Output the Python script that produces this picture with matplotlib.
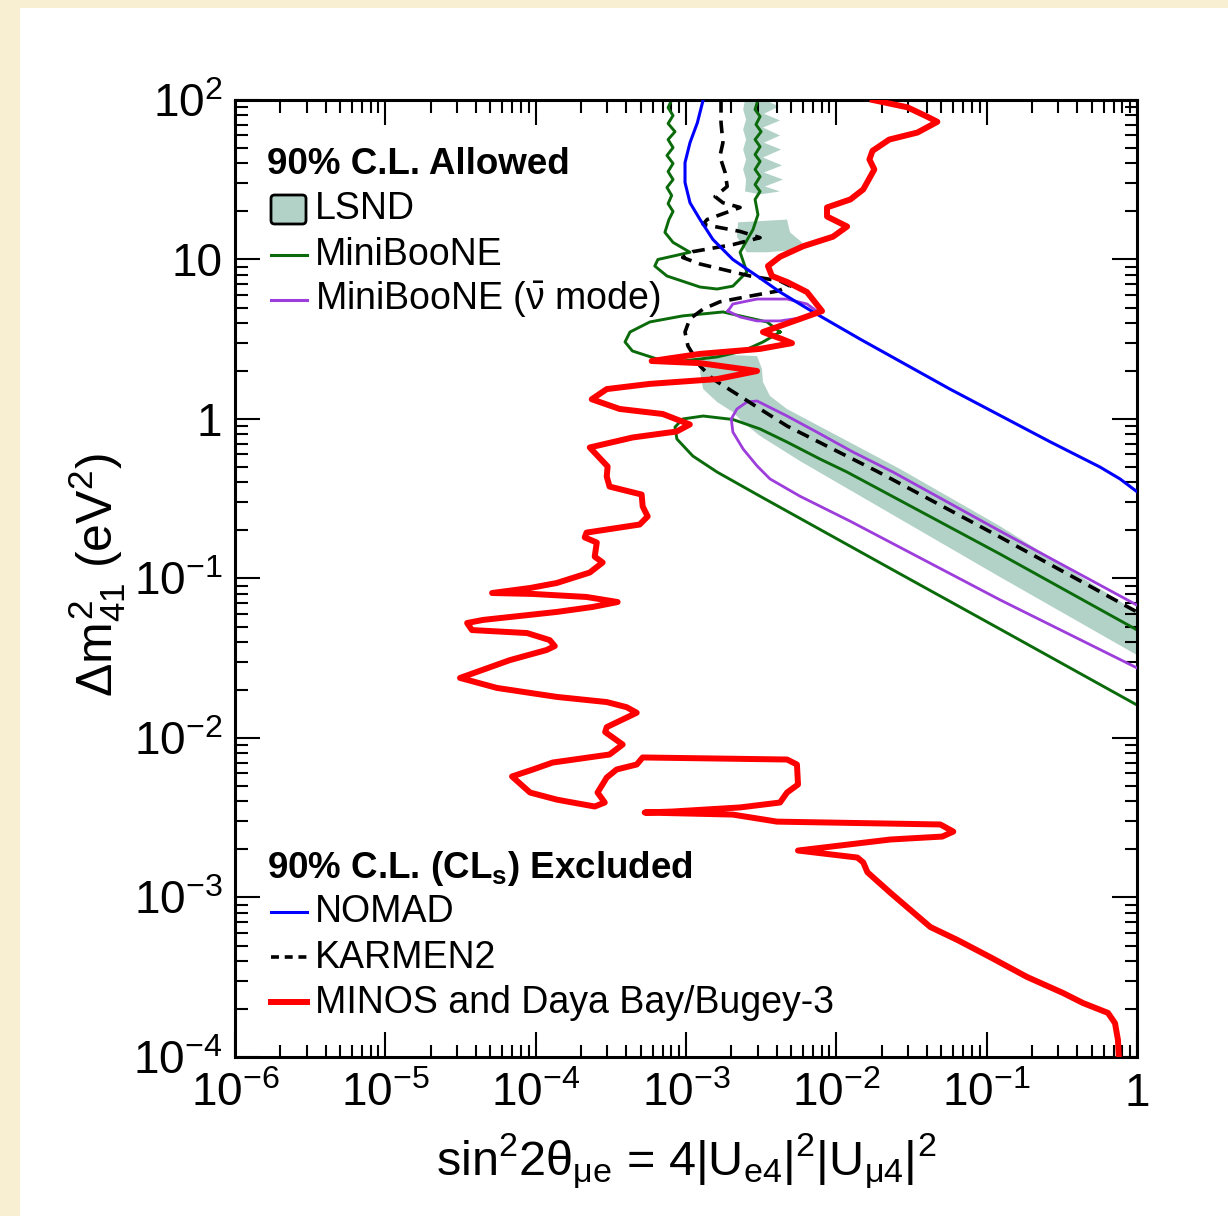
import numpy as np
import matplotlib.pyplot as plt
from matplotlib.patches import Rectangle, Polygon, FancyBboxPatch
from matplotlib.lines import Line2D
from matplotlib.ticker import FixedLocator, FixedFormatter, LogLocator, NullFormatter

plt.rcParams['font.family'] = ['Liberation Sans', 'DejaVu Sans']
plt.rcParams['mathtext.fontset'] = 'custom'
plt.rcParams['mathtext.rm'] = 'Liberation Sans'
plt.rcParams['mathtext.it'] = 'Liberation Sans'
plt.rcParams['mathtext.bf'] = 'Liberation Sans:bold'

# ---- axis ticks ----
x_ticks = [1e-6, 1e-5, 1e-4, 1e-3, 1e-2, 1e-1, 1]
x_tick_labels = [r'$10^{-6}$', r'$10^{-5}$', r'$10^{-4}$', r'$10^{-3}$', r'$10^{-2}$', r'$10^{-1}$', '1']
y_ticks = [1e-4, 1e-3, 1e-2, 1e-1, 1, 10, 100]
y_tick_labels = [r'$10^{-4}$', r'$10^{-3}$', r'$10^{-2}$', r'$10^{-1}$', '1', '10', r'$10^{2}$']

# ---- LSND 90% CL allowed islands (sin^2 2theta, dm^2) ----
lsnd_top_s2 = [2.47e-3, 2.40e-3, 2.51e-3, 2.40e-3, 2.51e-3, 2.40e-3, 2.51e-3, 2.40e-3, 2.51e-3, 2.47e-3,
               3.11e-3, 4.22e-3, 3.35e-3, 4.42e-3, 3.30e-3, 4.35e-3, 3.25e-3, 4.29e-3, 3.30e-3, 4.22e-3,
               3.25e-3, 4.22e-3, 3.30e-3, 4.16e-3, 3.35e-3]
lsnd_top_dm2 = [100, 87.2, 75.5, 65.3, 56.5, 48.9, 42.4, 36.7, 31.7, 26.7,
                25.6, 26.7, 28.7, 31.7, 35.1, 38.9, 43.6, 48.9, 54.0, 59.9,
                67.2, 74.4, 82.0, 91.0, 100]
lsnd_mid_s2 = [2.22e-3, 4.70e-3, 4.92e-3, 5.91e-3, 5.73e-3, 3.46e-3, 2.54e-3, 2.18e-3]
lsnd_mid_dm2 = [17.1, 17.8, 14.8, 12.8, 11.55, 11.1, 11.1, 13.9]
lsnd_main_s2 = [1.30e-3, 2.97e-3, 3.20e-3, 3.25e-3, 3.62e-3, 4.70e-3, 2.65e-2, 0.1226, 1.0,
                1.0, 0.1226, 2.65e-2, 5.73e-3, 3.11e-3, 2.40e-3, 2.05e-3, 1.61e-3, 1.30e-3, 1.24e-3]
lsnd_main_dm2 = [2.56, 2.48, 2.06, 1.706, 1.394, 1.155, 0.486, 0.213, 0.0617,
                 0.0331, 0.1022, 0.236, 0.545, 0.783, 0.95, 1.106, 1.278, 1.542, 1.97]

# ---- MiniBooNE (neutrino mode) 90% CL allowed contours ----
mb_upper_s2 = [8.03e-4, 7.6e-4, 8.2e-4, 7.6e-4, 8.45e-4, 7.6e-4, 8.2e-4, 7.47e-4, 8.2e-4, 7.6e-4,
               8.2e-4, 7.47e-4, 8.03e-4, 7.6e-4, 8.2e-4, 7.7e-4, 7.24e-4, 8.2e-4, 1.063e-3, 6.5e-4,
               6.2e-4, 7.47e-4, 1.24e-3, 1.61e-3, 2.05e-3, 2.54e-3, 2.29e-3, 2.79e-3, 3.01e-3, 2.88e-3,
               3.11e-3, 2.88e-3, 3.11e-3, 2.88e-3, 3.11e-3, 2.88e-3, 3.11e-3, 2.88e-3, 3.16e-3, 2.92e-3,
               3.11e-3, 2.88e-3, 3.01e-3]
mb_upper_dm2 = [100, 89.6, 79.9, 71.2, 63.3, 56.5, 50.3, 44.9, 40.0, 35.6,
                31.7, 28.3, 25.2, 22.4, 20.0, 17.8, 14.8, 12.8, 11.1, 10.0,
                9.1, 7.88, 6.72, 6.53, 6.81, 8.35, 11.1, 15.4, 19.1, 23.8,
                26.7, 29.5, 33.1, 36.7, 41.2, 45.5, 51.0, 56.5, 63.3, 70.2,
                78.8, 87.2, 100]
mb_loop_s2 = [4.22e-3, 3.46e-3, 2.29e-3, 1.76e-3, 9.5e-4, 5.75e-4, 4.24e-4, 3.93e-4, 4.4e-4, 6.4e-4,
              9.5e-4, 1.61e-3, 2.40e-3, 3.25e-3, 4.22e-3]
mb_loop_dm2 = [3.51, 4.06, 4.43, 4.69, 4.43, 4.06, 3.51, 3.04, 2.67, 2.38,
               2.31, 2.45, 2.67, 3.04, 3.51]
mb_lower_s2 = [1.0, 0.1226, 1.178e-2, 7.79e-3, 4.70e-3, 3.11e-3, 2.05e-3, 1.30e-3, 9.5e-4, 8.45e-4,
               8.7e-4, 1.11e-3, 1.61e-3, 3.11e-3, 2.65e-2, 0.1226, 1.0]
mb_lower_dm2 = [0.0476, 0.1424, 0.465, 0.561, 0.717, 0.866, 0.993, 1.044, 1.0, 0.89,
                0.749, 0.586, 0.465, 0.328, 0.107, 0.0482, 0.0161]

# ---- MiniBooNE antineutrino mode contours ----
mbbar_loop_s2 = [1.9e-3, 2.05e-3, 2.97e-3, 4.70e-3, 6.38e-3, 7.4e-3, 6.38e-3, 4.22e-3, 2.97e-3, 2.29e-3, 1.9e-3]
mbbar_loop_dm2 = [4.75, 5.26, 5.65, 5.65, 5.26, 4.75, 4.36, 4.12, 4.12, 4.36, 4.75]
mbbar_lower_s2 = [1.0, 0.1226, 2.38e-2, 1.29e-2, 7.4e-3, 4.70e-3, 2.97e-3, 2.54e-3, 2.18e-3, 2.0e-3,
                  2.05e-3, 2.40e-3, 2.97e-3, 3.62e-3, 5.73e-3, 1.233e-2, 0.1226, 1.0]
mbbar_lower_dm2 = [0.0681, 0.1985, 0.465, 0.621, 0.829, 1.044, 1.297, 1.278, 1.155, 1.0,
                   0.829, 0.648, 0.508, 0.421, 0.328, 0.229, 0.0735, 0.0275]

# ---- 90% CLs exclusion limits ----
nomad_s2 = [1.30e-3, 1.19e-3, 1.063e-3, 9.85e-4, 9.85e-4, 1.063e-3, 1.24e-3, 1.51e-3, 2.05e-3, 2.97e-3,
            4.22e-3, 7.0e-3, 1.438e-2, 5.7e-2, 0.264, 0.567, 0.771, 1.0]
nomad_dm2 = [100, 72, 54, 40.5, 30.4, 22.7, 17.8, 13.35, 10.0, 7.88,
             6.25, 4.69, 3.17, 1.54, 0.72, 0.50, 0.421, 0.35]

karmen_s2 = [1.71e-3, 1.71e-3, 1.76e-3, 1.68e-3, 1.82e-3, 1.88e-3, 1.56e-3, 1.76e-3, 2.29e-3, 1.38e-3,
             1.30e-3, 2.29e-3, 3.11e-3, 2.05e-3, 1.11e-3, 9.5e-4, 1.24e-3, 2.67e-3, 4.22e-3, 4.92e-3,
             4.03e-3, 2.67e-3, 1.68e-3, 1.30e-3, 1.06e-3, 9.85e-4, 1.03e-3, 1.24e-3, 1.51e-3, 2.29e-3,
             3.11e-3, 4.70e-3, 9.47e-3, 1.866e-2, 0.1226, 1.0]
karmen_dm2 = [100, 72, 54, 44.3, 35.1, 28.7, 24.8, 22.7, 21.2, 17.8,
              16.6, 15.0, 13.7, 12.4, 11.2, 10.3, 9.37, 7.88, 7.33, 6.81,
              6.33, 5.9, 5.43, 4.89, 4.24, 3.51, 2.87, 2.15, 1.78, 1.39,
              1.155, 0.904, 0.648, 0.47, 0.182, 0.0617]

minos_s2 = [1.75e-2, 2.97e-2, 4.0e-2, 4.7e-2, 3.46e-2, 2.25e-2, 1.74e-2, 1.66e-2, 1.79e-2, 1.51e-2,
            1.24e-2, 8.67e-3, 8.67e-3, 1.18e-2, 9.5e-3, 6.0e-3, 4.22e-3, 3.51e-3, 3.73e-3, 4.7e-3,
            6.38e-3, 8.03e-3, 5.73e-3, 3.25e-3, 4.35e-3, 5.07e-3, 3.1e-3, 1.24e-3, 5.91e-4, 1.24e-3,
            2.97e-3, 1.61e-3, 5.73e-4, 2.97e-4, 2.36e-4, 3.62e-4, 7.0e-4, 1.06e-3, 8.67e-4, 4.42e-4,
            2.29e-4, 3.01e-4, 2.97e-4, 3.1e-4, 5.07e-4, 5.15e-4, 5.56e-4, 4.92e-4, 2.18e-4, 2.12e-4,
            2.55e-4, 2.47e-4, 2.79e-4, 2.29e-4, 1.38e-4, 9.18e-5, 5.13e-5, 9.6e-5, 2.18e-4, 3.51e-4,
            2.39e-4, 1.38e-4, 4.47e-5, 3.5e-5, 3.77e-5, 8.76e-5, 1.24e-4, 1.34e-4, 1.18e-4, 6.75e-5,
            3.14e-5, 5.53e-5, 1.38e-4, 2.97e-4, 4.03e-4, 4.7e-4, 2.97e-4, 2.9e-4, 3.79e-4, 3.1e-4,
            1.3e-4, 9.6e-5, 6.96e-5, 9.18e-5, 1.38e-4, 1.76e-4, 2.47e-4, 2.88e-4, 2.58e-4, 2.97e-4,
            3.46e-4, 4.7e-4, 5.15e-4, 4.7e-3, 5.47e-3, 5.56e-3, 4.7e-3, 4.22e-3, 2.29e-3, 8.15e-4,
            5.31e-4, 2.05e-3, 4.03e-3, 4.92e-2, 6.0e-2, 5.07e-2, 2.29e-2, 5.56e-3, 1.38e-2, 1.51e-2,
            1.61e-2, 2.29e-2, 4.22e-2, 6.38e-2, 0.105, 0.185, 0.322, 0.437, 0.641, 0.714,
            0.747, 0.757]
minos_dm2 = [100, 90, 78.8, 73, 62.5, 56.5, 48, 42.4, 36.7, 27.5,
             23.8, 21.2, 18.6, 16.1, 13.9, 12.1, 10.4, 9.1, 7.88, 7.23,
             6.25, 4.75, 4.24, 3.51, 3.17, 2.99, 2.75, 2.56, 2.31, 2.24,
             2.0, 1.78, 1.66, 1.54, 1.33, 1.156, 1.075, 0.924, 0.835, 0.766,
             0.663, 0.504, 0.436, 0.377, 0.336, 0.283, 0.245, 0.218, 0.194, 0.181,
             0.168, 0.137, 0.126, 0.109, 0.0937, 0.0872, 0.0811, 0.080, 0.0766, 0.0712,
             0.0663, 0.0617, 0.055, 0.0526, 0.0475, 0.0455, 0.0411, 0.0377, 0.0356, 0.0308,
             0.0238, 0.0206, 0.0181, 0.0168, 0.0156, 0.0144, 0.0117, 0.0109, 9.1e-3, 7.88e-3,
             7.02e-3, 6.35e-3, 5.74e-3, 4.55e-3, 4.11e-3, 3.94e-3, 3.72e-3, 3.94e-3, 4.55e-3, 5.65e-3,
             6.35e-3, 6.82e-3, 7.55e-3, 7.33e-3, 6.82e-3, 5.11e-3, 4.55e-3, 3.94e-3, 3.67e-3, 3.46e-3,
             3.41e-3, 3.31e-3, 2.99e-3, 2.87e-3, 2.59e-3, 2.41e-3, 2.31e-3, 1.97e-3, 1.78e-3, 1.66e-3,
             1.44e-3, 1.07e-3, 6.53e-4, 5.42e-4, 4.24e-4, 3.18e-4, 2.52e-4, 2.18e-4, 1.89e-4, 1.63e-4,
             1.28e-4, 1.0e-4]

lsnd_color = '#b2d2c8'
green = '#0b6b0b'
purple = '#9d3ddb'

fig = plt.figure(figsize=(12.28, 12.16), dpi=100)
fig.patch.set_facecolor('#f8efd3')
fig.add_artist(Rectangle((20 / 1228, 0), 1, 1 - 8 / 1216, transform=fig.transFigure,
                         facecolor='white', edgecolor='none', zorder=-5))

ax = fig.add_axes([235 / 1228, 1 - 1057 / 1216, 902 / 1228, 957 / 1216])
ax.set_xscale('log')
ax.set_yscale('log')
ax.set_xlim(1e-6, 1)
ax.set_ylim(1e-4, 1e2)

# LSND shaded regions
for s2, dm2 in [(lsnd_top_s2, lsnd_top_dm2), (lsnd_mid_s2, lsnd_mid_dm2), (lsnd_main_s2, lsnd_main_dm2)]:
    ax.add_patch(Polygon(np.column_stack([s2, dm2]), closed=True, facecolor=lsnd_color,
                         edgecolor='none', zorder=1))

# MiniBooNE contours
for s2, dm2 in [(mb_upper_s2, mb_upper_dm2), (mb_loop_s2, mb_loop_dm2), (mb_lower_s2, mb_lower_dm2)]:
    ax.plot(s2, dm2, color=green, lw=2.1, zorder=2)
for s2, dm2 in [(mbbar_loop_s2, mbbar_loop_dm2), (mbbar_lower_s2, mbbar_lower_dm2)]:
    ax.plot(s2, dm2, color=purple, lw=2.0, zorder=3)

# exclusion limits
ax.plot(karmen_s2, karmen_dm2, color='black', lw=2.6, linestyle=(0, (3.5, 2.2)), zorder=4)
ax.plot(nomad_s2, nomad_dm2, color='#0000ff', lw=2.2, zorder=5)
ax.plot(minos_s2, minos_dm2, color='#ff0000', lw=4.3, solid_joinstyle='round', zorder=6)

# ticks and frame
ax.xaxis.set_major_locator(FixedLocator(x_ticks))
ax.xaxis.set_major_formatter(FixedFormatter(x_tick_labels))
ax.yaxis.set_major_locator(FixedLocator(y_ticks))
ax.yaxis.set_major_formatter(FixedFormatter(y_tick_labels))
for axis in (ax.xaxis, ax.yaxis):
    axis.set_minor_locator(LogLocator(base=10, subs=np.arange(2, 10), numticks=100))
    axis.set_minor_formatter(NullFormatter())
ax.tick_params(which='both', direction='in', top=True, right=True, width=1.5, colors='black')
ax.tick_params(which='major', length=18, labelsize=33)
ax.tick_params(axis='x', which='major', pad=11)
ax.tick_params(axis='y', which='major', pad=9)
ax.tick_params(which='minor', length=9)
for sp in ax.spines.values():
    sp.set_linewidth(2.2)

# axis titles
fig.text(686 / 1228, 1 - 1175 / 1216,
         r'$\mathrm{sin}^{2}2\theta_{\mu e}$ = 4|U$_{e4}$|$^{2}$|U$_{\mu 4}$|$^{2}$',
         fontsize=35, ha='center', va='baseline')
fig.text(97 / 1228, 1 - 575 / 1216, r'$\Delta m^{2}_{41}$ (eV$^{2}$)', fontsize=36,
         rotation=90, ha='center', va='center')


# legend blocks
def fx(px):
    return px / 1228


def fy(py):
    return 1 - py / 1216


head_size = 26.5
entry_size = 27

fig.text(fx(267), fy(174), '90% C.L. Allowed', fontsize=head_size, fontweight='bold', va='baseline')
fig.add_artist(FancyBboxPatch((fx(271), fy(224)), fx(35), 29 / 1216,
                              boxstyle='round,pad=0,rounding_size=0.003', transform=fig.transFigure,
                              facecolor=lsnd_color, edgecolor='black', lw=2))
fig.text(fx(315), fy(219), 'LSND', fontsize=entry_size, va='baseline')
fig.add_artist(Line2D([fx(271), fx(307)], [fy(255), fy(255)], transform=fig.transFigure, color=green, lw=2.2))
fig.text(fx(315), fy(265), 'MiniBooNE', fontsize=entry_size, va='baseline')
fig.add_artist(Line2D([fx(271), fx(307)], [fy(300), fy(300)], transform=fig.transFigure, color=purple, lw=2.2))
fig.text(fx(315), fy(310), r'MiniBooNE ($\bar{\nu}$ mode)', fontsize=entry_size, va='baseline')

fig.text(fx(267), fy(878), r'90% C.L. (CL$_{\mathbf{s}}$) Excluded', fontsize=head_size, fontweight='bold',
         va='baseline')
fig.add_artist(Line2D([fx(271), fx(307)], [fy(912), fy(912)], transform=fig.transFigure, color='#0000ff', lw=2.2))
fig.text(fx(315), fy(922), 'NOMAD', fontsize=entry_size, va='baseline')
fig.add_artist(Line2D([fx(271), fx(307)], [fy(957), fy(957)], transform=fig.transFigure, color='black',
                      lw=2.6, linestyle=(0, (2.2, 1.6))))
fig.text(fx(315), fy(968), 'KARMEN2', fontsize=entry_size, va='baseline')
fig.add_artist(Line2D([fx(271), fx(307)], [fy(1002), fy(1002)], transform=fig.transFigure, color='#ff0000', lw=4.3))
fig.text(fx(315), fy(1013), 'MINOS and Daya Bay/Bugey-3', fontsize=entry_size, va='baseline')

fig.savefig('out.png', dpi=100)
